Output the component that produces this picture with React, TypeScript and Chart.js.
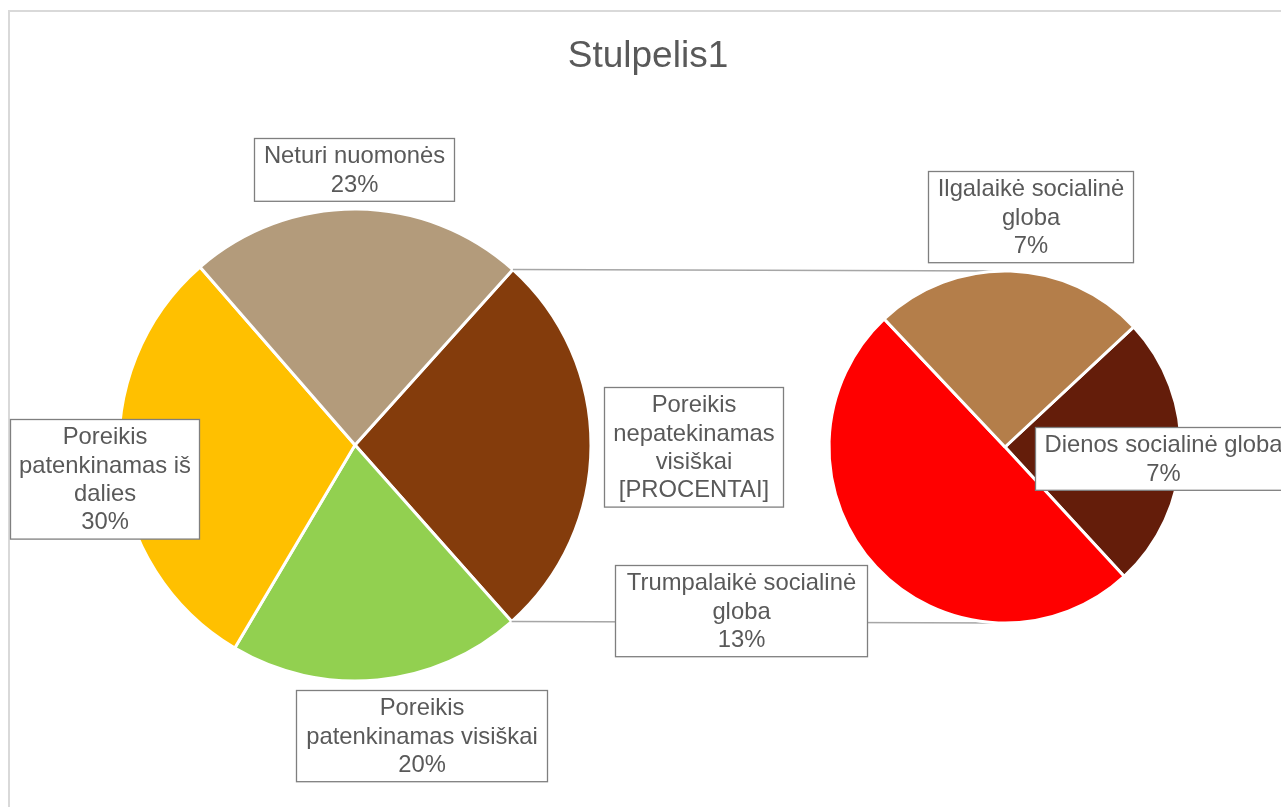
import React, { useEffect, useRef } from "react";
import { Chart, registerables } from "chart.js";

Chart.register(...registerables);

// ---------- data ----------
const TITLE = "Stulpelis1";
const mainCategories = [
  "Poreikis nepatekinamas visiškai",
  "Poreikis patenkinamas visiškai",
  "Poreikis patenkinamas iš dalies",
  "Neturi nuomonės",
];
// first slice is the aggregate of the secondary pie
const mainValues = [null, 20, 30, 23];
const secondaryCategories = [
  "Dienos socialinė globa",
  "Trumpalaikė socialinė globa",
  "Ilgalaikė socialinė globa",
];
const secondaryValues = [6.7, 13.3, 6.7];
const OTHER_PERCENT_TEXT = "[PROCENTAI]";

// ---------- style / layout ----------
const mainColors = ["#843C0C", "#92D050", "#FFC000", "#B39B7B"];
const secondaryColors = ["#641D0A", "#FF0000", "#B47E4A"];
const W = 1281;
const H = 807;
const MAIN = { cx: 355, cy: 445, r: 236, rotation: 42 };
const SEC = { cx: 1005, cy: 447, r: 176, rotation: 47 };
const FONT = "'Liberation Sans', Arial, sans-serif";
const LABEL_FONT_SIZE = 23.8;
const LINE_H = 28.4;
const TEXT_COLOR = "#595959";

// label box placement: offset from pie centre in units of the pie radius, box width, line breaks
const mainLabelLayout = [
  { dx: 1.434, dy: 0.006, w: 179, lines: ["Poreikis", "nepatekinamas", "visiškai"] },
  { dx: 0.282, dy: 1.233, w: 251, lines: ["Poreikis", "patenkinamas visiškai"] },
  { dx: -1.061, dy: 0.142, w: 189, lines: ["Poreikis", "patenkinamas iš", "dalies"] },
  { dx: -0.004, dy: -1.169, w: 200, lines: ["Neturi nuomonės"] },
];
const secLabelLayout = [
  { dx: 0.898, dy: 0.0625, w: 256, lines: ["Dienos socialinė globa"] },
  { dx: -1.5, dy: 0.932, w: 252, lines: ["Trumpalaikė socialinė", "globa"] },
  { dx: 0.145, dy: -1.307, w: 205, lines: ["Ilgalaikė socialinė", "globa"] },
];

const otherValue = secondaryValues.reduce((a, b) => a + b, 0);
const mainData = mainValues.map((v) => (v === null ? otherValue : v)) as number[];
const total = mainData.reduce((a, b) => a + b, 0);
const pct = (v: number) => Math.round((v / total) * 100) + "%";

function drawBox(ctx: CanvasRenderingContext2D, cx: number, cy: number, w: number, lines: string[]) {
  const h = lines.length * LINE_H + 6;
  const x = Math.round(cx - w / 2) + 0.5;
  const y = Math.round(cy - h / 2) + 0.5;
  ctx.save();
  ctx.fillStyle = "#ffffff";
  ctx.fillRect(x, y, w, h);
  ctx.strokeStyle = "#7f7f7f";
  ctx.lineWidth = 1.3;
  ctx.strokeRect(x, y, w, h);
  ctx.fillStyle = TEXT_COLOR;
  ctx.font = `${LABEL_FONT_SIZE}px ${FONT}`;
  ctx.textAlign = "center";
  ctx.textBaseline = "middle";
  lines.forEach((t, i) => {
    ctx.fillText(t, x + w / 2, y + 3 + LINE_H * (i + 0.5) + 1);
  });
  ctx.restore();
}

export default function App() {
  const ref1 = useRef<HTMLCanvasElement>(null);
  const ref2 = useRef<HTMLCanvasElement>(null);

  useEffect(() => {
    const c1 = new Chart(ref1.current!, {
      type: "pie",
      data: {
        labels: mainCategories,
        datasets: [
          {
            data: mainData,
            backgroundColor: mainColors,
            borderColor: "#ffffff",
            borderWidth: 3,
            radius: MAIN.r,
          } as any,
        ],
      },
      options: {
        responsive: false,
        animation: false,
        rotation: MAIN.rotation,
        layout: {
          padding: {
            left: 0,
            right: W - 2 * MAIN.cx,
            top: 2 * MAIN.cy - H,
            bottom: 0,
          },
        },
        plugins: { legend: { display: false }, tooltip: { enabled: false }, title: { display: false } },
      },
      plugins: [
        {
          id: "titleText",
          afterDraw(chart: any) {
            const ctx = chart.ctx;
            ctx.save();
            ctx.fillStyle = TEXT_COLOR;
            ctx.font = `37px ${FONT}`;
            ctx.textAlign = "center";
            ctx.textBaseline = "alphabetic";
            ctx.fillText(TITLE, 648, 67);
            ctx.restore();
          },
        },
      ],
    });

    const c2 = new Chart(ref2.current!, {
      type: "pie",
      data: {
        labels: secondaryCategories,
        datasets: [
          {
            data: secondaryValues,
            backgroundColor: secondaryColors,
            borderColor: "#ffffff",
            borderWidth: 3,
            radius: SEC.r,
          } as any,
        ],
      },
      options: {
        responsive: false,
        animation: false,
        rotation: SEC.rotation,
        layout: {
          padding: {
            left: 2 * SEC.cx - W,
            right: 0,
            top: 2 * SEC.cy - H,
            bottom: 0,
          },
        },
        plugins: { legend: { display: false }, tooltip: { enabled: false }, title: { display: false } },
      },
      plugins: [
        {
          id: "connectorsAndLabels",
          beforeDatasetsDraw(chart: any) {
            const ctx = chart.ctx;
            const other = c1.getDatasetMeta(0).data[0] as any;
            const a = other.getProps(["x", "y", "startAngle", "endAngle", "outerRadius"], true);
            const s = (chart.getDatasetMeta(0).data[0] as any).getProps(["x", "y", "outerRadius"], true);
            ctx.save();
            ctx.strokeStyle = "#a6a6a6";
            ctx.lineWidth = 1.5;
            ctx.beginPath();
            ctx.moveTo(a.x + a.outerRadius * Math.cos(a.startAngle), a.y + a.outerRadius * Math.sin(a.startAngle));
            ctx.lineTo(s.x, s.y - s.outerRadius);
            ctx.moveTo(a.x + a.outerRadius * Math.cos(a.endAngle), a.y + a.outerRadius * Math.sin(a.endAngle));
            ctx.lineTo(s.x, s.y + s.outerRadius);
            ctx.stroke();
            ctx.restore();
          },
          afterDatasetsDraw(chart: any) {
            const ctx = chart.ctx;
            const m1 = c1.getDatasetMeta(0).data as any[];
            m1.forEach((arc, i) => {
              const p = arc.getProps(["x", "y", "outerRadius"], true);
              const L = mainLabelLayout[i];
              const pText = mainValues[i] === null ? OTHER_PERCENT_TEXT : pct(mainData[i]);
              drawBox(ctx, p.x + L.dx * p.outerRadius, p.y + L.dy * p.outerRadius, L.w, [...L.lines, pText]);
            });
            const m2 = chart.getDatasetMeta(0).data as any[];
            m2.forEach((arc, i) => {
              const p = arc.getProps(["x", "y", "outerRadius"], true);
              const L = secLabelLayout[i];
              drawBox(ctx, p.x + L.dx * p.outerRadius, p.y + L.dy * p.outerRadius, L.w, [
                ...L.lines,
                pct(secondaryValues[i]),
              ]);
            });
          },
        },
      ],
    });

    return () => {
      c2.destroy();
      c1.destroy();
    };
  }, []);

  const canvasStyle: React.CSSProperties = { position: "absolute", left: 0, top: 0, width: W, height: H };
  return (
    <div
      style={{
        position: "fixed",
        left: 0,
        top: 0,
        width: W,
        height: H,
        overflow: "hidden",
        background: "#ffffff",
      }}
    >
      <div
        style={{
          position: "absolute",
          left: 8,
          top: 10,
          width: 1400,
          height: 900,
          borderLeft: "2px solid #d9d9d9",
          borderTop: "2px solid #d9d9d9",
        }}
      />
      <canvas ref={ref1} width={W} height={H} style={canvasStyle} />
      <canvas ref={ref2} width={W} height={H} style={canvasStyle} />
    </div>
  );
}
